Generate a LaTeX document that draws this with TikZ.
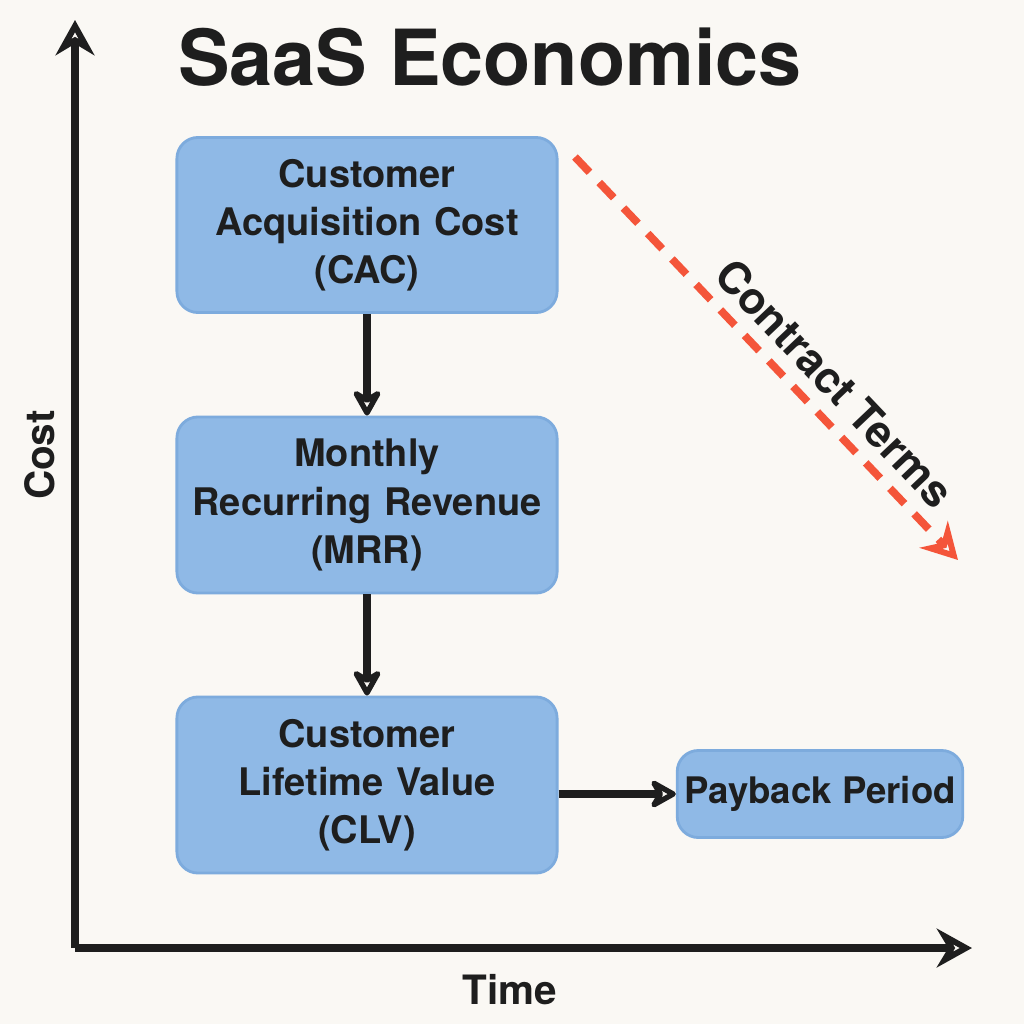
\documentclass[tikz,border=0pt]{standalone}
\usepackage{fontspec}
\setmainfont{TeX Gyre Heros}
\usetikzlibrary{arrows.meta}
\definecolor{bg}{HTML}{FAF8F4}
\definecolor{boxfill}{HTML}{8FB9E6}
\definecolor{boxline}{HTML}{7DABDD}
\definecolor{ink}{HTML}{1E1E1E}
\definecolor{redd}{HTML}{F4553A}
\tikzset{
 box/.style={draw=boxline,fill=boxfill,rounded corners=6pt,line width=0.8pt,align=center,font=\fontsize{10.8}{13.7}\selectfont\bfseries,text=ink,inner sep=2pt},
 conn/.style={draw=ink,line width=2.2pt,-{Stealth[length=9pt,width=10pt,open,round]}},
 ax/.style={draw=ink,line width=2.4pt,-{Stealth[length=10pt,width=11pt,open]}},
}
\begin{document}
\begin{tikzpicture}[x=0.01cm,y=-0.01cm]
\fill[bg] (0,0) rectangle (1024,1024);
\useasboundingbox (0,0) rectangle (1024,1024);
\node[text=ink,font=\fontsize{22}{26}\selectfont\bfseries] (title) at (490,57) {SaaS Economics};
\coordinate (o) at (75,948);
\coordinate (ytop) at (75,20);
\coordinate (xend) at (972,948);
\draw[ax] (o) -- (ytop);
\draw[ax] (o) -- (xend);
\node[rotate=90,text=ink,font=\fontsize{11.5}{13}\selectfont\bfseries] (cost) at (40,455) {Cost};
\node[text=ink,font=\fontsize{11.5}{13}\selectfont\bfseries] (time) at (510,990) {Time};
\node[box,text width=3.6cm,minimum height=1.75cm,minimum width=3.8cm] (cac) at (367,225) {Customer\\Acquisition Cost\\(CAC)};
\node[box,text width=3.6cm,minimum height=1.76cm,minimum width=3.8cm] (mrr) at (367,505) {Monthly\\Recurring Revenue\\(MRR)};
\node[box,text width=3.6cm,minimum height=1.76cm,minimum width=3.8cm] (clv) at (367,785) {Customer\\Lifetime Value\\(CLV)};
\node[box,minimum height=0.87cm,minimum width=2.77cm,font=\fontsize{10.4}{12}\selectfont\bfseries] (pp) at (820,794) {Payback Period};
\draw[conn] (cac) -- (mrr);
\draw[conn] (mrr) -- (clv);
\draw[conn] (clv.east |- pp) -- (pp);
\coordinate (ra) at (575,157);
\coordinate (rb) at (958,560);
\draw[redd,line width=2.2pt,dash pattern=on 6pt off 4pt,-{Stealth[length=10pt,width=11pt,open]}] (ra) -- (rb);
\node[rotate=-46.5,text=ink,font=\fontsize{12.5}{14}\selectfont\bfseries] (ct) at (835,383) {Contract Terms};
\end{tikzpicture}
\end{document}
